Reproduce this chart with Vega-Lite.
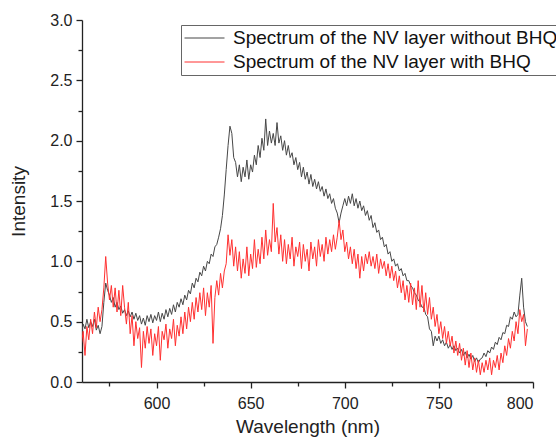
{
"$schema": "https://vega.github.io/schema/vega-lite/v6.json",
"autosize": {"type": "none"},
"padding": {"left": 82, "top": 20, "right": 23, "bottom": 57},
"width": 451,
"height": 362,
"background": "white",
"config": {"font": "Liberation Sans", "view": {"stroke": null}},
"data": {"values": [
{"w":560,"a":0.38,"b":0.30},{"w":561,"a":0.48,"b":0.42},{"w":562,"a":0.44,"b":0.22},{"w":563,"a":0.52,"b":0.46},{"w":564,"a":0.45,"b":0.35},
{"w":565,"a":0.50,"b":0.52},{"w":566,"a":0.46,"b":0.40},{"w":567,"a":0.52,"b":0.58},{"w":568,"a":0.43,"b":0.45},{"w":569,"a":0.47,"b":0.62},
{"w":570,"a":0.40,"b":0.50},{"w":571,"a":0.46,"b":0.60},{"w":572,"a":0.66,"b":0.78},{"w":573,"a":0.82,"b":1.04},{"w":574,"a":0.76,"b":0.82},
{"w":575,"a":0.72,"b":0.68},{"w":576,"a":0.66,"b":0.80},{"w":577,"a":0.70,"b":0.62},{"w":578,"a":0.62,"b":0.78},{"w":579,"a":0.66,"b":0.58},
{"w":580,"a":0.60,"b":0.76},{"w":581,"a":0.63,"b":0.55},{"w":582,"a":0.57,"b":0.80},{"w":583,"a":0.60,"b":0.62},{"w":584,"a":0.55,"b":0.48},
{"w":585,"a":0.59,"b":0.66},{"w":586,"a":0.54,"b":0.40},{"w":587,"a":0.58,"b":0.55},{"w":588,"a":0.52,"b":0.30},{"w":589,"a":0.57,"b":0.50},
{"w":590,"a":0.51,"b":0.36},{"w":591,"a":0.55,"b":0.45},{"w":592,"a":0.48,"b":0.12},{"w":593,"a":0.53,"b":0.42},{"w":594,"a":0.47,"b":0.28},
{"w":595,"a":0.55,"b":0.46},{"w":596,"a":0.50,"b":0.32},{"w":597,"a":0.56,"b":0.44},{"w":598,"a":0.49,"b":0.22},{"w":599,"a":0.55,"b":0.40},
{"w":600,"a":0.51,"b":0.30},{"w":601,"a":0.58,"b":0.46},{"w":602,"a":0.50,"b":0.18},{"w":603,"a":0.57,"b":0.42},{"w":604,"a":0.52,"b":0.35},
{"w":605,"a":0.60,"b":0.48},{"w":606,"a":0.54,"b":0.28},{"w":607,"a":0.61,"b":0.44},{"w":608,"a":0.56,"b":0.36},{"w":609,"a":0.64,"b":0.52},
{"w":610,"a":0.58,"b":0.30},{"w":611,"a":0.66,"b":0.47},{"w":612,"a":0.62,"b":0.38},{"w":613,"a":0.69,"b":0.54},{"w":614,"a":0.64,"b":0.40},
{"w":615,"a":0.72,"b":0.58},{"w":616,"a":0.68,"b":0.44},{"w":617,"a":0.76,"b":0.62},{"w":618,"a":0.73,"b":0.50},{"w":619,"a":0.82,"b":0.66},
{"w":620,"a":0.78,"b":0.52},{"w":621,"a":0.86,"b":0.70},{"w":622,"a":0.83,"b":0.58},{"w":623,"a":0.91,"b":0.74},{"w":624,"a":0.88,"b":0.60},
{"w":625,"a":0.96,"b":0.78},{"w":626,"a":0.92,"b":0.55},{"w":627,"a":1.00,"b":0.74},{"w":628,"a":0.98,"b":0.62},{"w":629,"a":1.06,"b":0.80},
{"w":630,"a":1.04,"b":0.32},{"w":631,"a":1.12,"b":0.70},{"w":632,"a":1.14,"b":0.84},{"w":633,"a":1.20,"b":0.72},{"w":634,"a":1.27,"b":0.90},
{"w":635,"a":1.38,"b":0.78},{"w":636,"a":1.55,"b":0.92},{"w":637,"a":1.76,"b":0.98},{"w":638,"a":1.96,"b":1.22},{"w":639,"a":2.12,"b":1.05},
{"w":640,"a":2.06,"b":1.18},{"w":641,"a":1.86,"b":0.96},{"w":642,"a":1.82,"b":1.12},{"w":643,"a":1.70,"b":0.92},{"w":644,"a":1.80,"b":1.08},
{"w":645,"a":1.66,"b":0.86},{"w":646,"a":1.78,"b":1.02},{"w":647,"a":1.70,"b":0.90},{"w":648,"a":1.84,"b":1.12},{"w":649,"a":1.68,"b":0.88},
{"w":650,"a":1.80,"b":1.06},{"w":651,"a":1.74,"b":0.94},{"w":652,"a":1.88,"b":1.18},{"w":653,"a":1.80,"b":0.95},{"w":654,"a":1.96,"b":1.10},
{"w":655,"a":1.86,"b":0.98},{"w":656,"a":2.02,"b":1.20},{"w":657,"a":1.92,"b":1.02},{"w":658,"a":2.18,"b":1.26},{"w":659,"a":1.96,"b":1.05},
{"w":660,"a":2.08,"b":1.18},{"w":661,"a":1.98,"b":1.08},{"w":662,"a":2.06,"b":1.48},{"w":663,"a":1.96,"b":1.16},{"w":664,"a":2.15,"b":1.28},
{"w":665,"a":1.98,"b":1.06},{"w":666,"a":2.04,"b":1.22},{"w":667,"a":1.92,"b":1.00},{"w":668,"a":2.00,"b":1.18},{"w":669,"a":1.88,"b":0.98},
{"w":670,"a":1.96,"b":1.14},{"w":671,"a":1.86,"b":1.02},{"w":672,"a":1.90,"b":1.20},{"w":673,"a":1.80,"b":0.96},{"w":674,"a":1.86,"b":1.12},
{"w":675,"a":1.76,"b":1.04},{"w":676,"a":1.82,"b":1.16},{"w":677,"a":1.70,"b":0.94},{"w":678,"a":1.78,"b":1.14},{"w":679,"a":1.68,"b":1.00},
{"w":680,"a":1.74,"b":1.10},{"w":681,"a":1.64,"b":0.92},{"w":682,"a":1.72,"b":1.16},{"w":683,"a":1.62,"b":1.02},{"w":684,"a":1.68,"b":1.12},
{"w":685,"a":1.60,"b":0.96},{"w":686,"a":1.66,"b":1.18},{"w":687,"a":1.58,"b":1.04},{"w":688,"a":1.62,"b":1.14},{"w":689,"a":1.54,"b":1.00},
{"w":690,"a":1.60,"b":1.20},{"w":691,"a":1.52,"b":1.06},{"w":692,"a":1.56,"b":1.18},{"w":693,"a":1.48,"b":1.08},{"w":694,"a":1.52,"b":1.22},
{"w":695,"a":1.44,"b":1.10},{"w":696,"a":1.40,"b":1.20},{"w":697,"a":1.32,"b":1.34},{"w":698,"a":1.40,"b":1.18},{"w":699,"a":1.46,"b":1.26},
{"w":700,"a":1.52,"b":1.08},{"w":701,"a":1.46,"b":1.16},{"w":702,"a":1.54,"b":1.02},{"w":703,"a":1.48,"b":1.12},{"w":704,"a":1.56,"b":0.98},
{"w":705,"a":1.46,"b":1.10},{"w":706,"a":1.52,"b":0.94},{"w":707,"a":1.44,"b":1.06},{"w":708,"a":1.50,"b":0.86},{"w":709,"a":1.42,"b":1.04},
{"w":710,"a":1.46,"b":0.92},{"w":711,"a":1.38,"b":1.06},{"w":712,"a":1.42,"b":0.98},{"w":713,"a":1.34,"b":1.08},{"w":714,"a":1.38,"b":0.96},
{"w":715,"a":1.28,"b":1.04},{"w":716,"a":1.32,"b":0.94},{"w":717,"a":1.24,"b":1.06},{"w":718,"a":1.26,"b":0.90},{"w":719,"a":1.18,"b":1.02},
{"w":720,"a":1.20,"b":0.94},{"w":721,"a":1.12,"b":1.00},{"w":722,"a":1.14,"b":0.88},{"w":723,"a":1.06,"b":0.98},{"w":724,"a":1.08,"b":0.86},
{"w":725,"a":1.00,"b":0.96},{"w":726,"a":1.02,"b":0.84},{"w":727,"a":0.96,"b":0.92},{"w":728,"a":0.98,"b":0.78},{"w":729,"a":0.92,"b":0.88},
{"w":730,"a":0.94,"b":0.74},{"w":731,"a":0.88,"b":0.84},{"w":732,"a":0.90,"b":0.68},{"w":733,"a":0.84,"b":0.80},{"w":734,"a":0.84,"b":0.66},
{"w":735,"a":0.80,"b":0.82},{"w":736,"a":0.78,"b":0.64},{"w":737,"a":0.74,"b":0.78},{"w":738,"a":0.72,"b":0.60},{"w":739,"a":0.68,"b":0.84},
{"w":740,"a":0.66,"b":0.62},{"w":741,"a":0.62,"b":0.80},{"w":742,"a":0.62,"b":0.58},{"w":743,"a":0.56,"b":0.74},{"w":744,"a":0.54,"b":0.56},
{"w":745,"a":0.44,"b":0.70},{"w":746,"a":0.42,"b":0.52},{"w":747,"a":0.30,"b":0.62},{"w":748,"a":0.38,"b":0.46},{"w":749,"a":0.34,"b":0.56},
{"w":750,"a":0.38,"b":0.40},{"w":751,"a":0.32,"b":0.50},{"w":752,"a":0.35,"b":0.36},{"w":753,"a":0.30,"b":0.46},{"w":754,"a":0.33,"b":0.32},
{"w":755,"a":0.28,"b":0.42},{"w":756,"a":0.31,"b":0.30},{"w":757,"a":0.27,"b":0.38},{"w":758,"a":0.30,"b":0.24},{"w":759,"a":0.26,"b":0.34},
{"w":760,"a":0.28,"b":0.22},{"w":761,"a":0.24,"b":0.32},{"w":762,"a":0.27,"b":0.18},{"w":763,"a":0.22,"b":0.28},{"w":764,"a":0.25,"b":0.14},
{"w":765,"a":0.20,"b":0.26},{"w":766,"a":0.23,"b":0.12},{"w":767,"a":0.19,"b":0.24},{"w":768,"a":0.22,"b":0.10},{"w":769,"a":0.17,"b":0.20},
{"w":770,"a":0.20,"b":0.08},{"w":771,"a":0.16,"b":0.18},{"w":772,"a":0.19,"b":0.06},{"w":773,"a":0.20,"b":0.16},{"w":774,"a":0.24,"b":0.08},
{"w":775,"a":0.21,"b":0.18},{"w":776,"a":0.26,"b":0.10},{"w":777,"a":0.24,"b":0.20},{"w":778,"a":0.29,"b":0.06},{"w":779,"a":0.27,"b":0.18},
{"w":780,"a":0.33,"b":0.12},{"w":781,"a":0.31,"b":0.22},{"w":782,"a":0.37,"b":0.10},{"w":783,"a":0.35,"b":0.24},{"w":784,"a":0.41,"b":0.16},
{"w":785,"a":0.40,"b":0.30},{"w":786,"a":0.47,"b":0.22},{"w":787,"a":0.46,"b":0.36},{"w":788,"a":0.54,"b":0.28},{"w":789,"a":0.52,"b":0.42},
{"w":790,"a":0.58,"b":0.34},{"w":791,"a":0.54,"b":0.50},{"w":792,"a":0.56,"b":0.40},{"w":793,"a":0.72,"b":0.60},{"w":794,"a":0.86,"b":0.50},
{"w":795,"a":0.62,"b":0.56},{"w":796,"a":0.50,"b":0.30},{"w":797,"a":0.46,"b":0.44}
]},
"transform": [{"fold": ["a", "b"], "as": ["s", "v"]}],
"mark": {"type": "line", "strokeWidth": 1, "clip": true},
"encoding": {
  "x": {"field": "w", "type": "quantitative",
    "scale": {"domain": [560.4, 800], "nice": false, "zero": false},
    "axis": {"title": "Wavelength (nm)", "values": [575, 600, 625, 650, 675, 700, 725, 750, 775, 800],
      "labelExpr": "datum.value % 50 === 0 ? datum.label : ''", "grid": false,
      "domainColor": "#222", "domainWidth": 1.3, "tickColor": "#222", "tickWidth": 1.3,
      "tickSize": {"condition": {"test": "datum.value % 50 === 0", "value": 6}, "value": 4},
      "labelFontSize": 16, "labelColor": "#222", "labelPadding": 7,
      "titleFontSize": 19, "titleFontWeight": "normal", "titleColor": "#222", "titlePadding": 6}},
  "y": {"field": "v", "type": "quantitative",
    "scale": {"domain": [0, 3], "nice": false, "zero": true},
    "axis": {"title": "Intensity", "values": [0, 0.25, 0.5, 0.75, 1, 1.25, 1.5, 1.75, 2, 2.25, 2.5, 2.75, 3],
      "format": ".1f",
      "labelExpr": "abs(datum.value*2 - round(datum.value*2)) < 0.01 ? datum.label : ''", "grid": false,
      "domainColor": "#222", "domainWidth": 1.3, "tickColor": "#222", "tickWidth": 1.3,
      "tickSize": {"condition": {"test": "abs(datum.value*2 - round(datum.value*2)) < 0.01", "value": 6}, "value": 4},
      "labelFontSize": 16, "labelColor": "#222", "labelPadding": 4,
      "titleFontSize": 19, "titleFontWeight": "normal", "titleColor": "#222", "titlePadding": 21}},
  "color": {"field": "s", "type": "nominal",
    "scale": {"domain": ["a", "b"], "range": ["#474747", "#ff3030"]},
    "legend": {"orient": "none", "legendX": 99, "legendY": 5, "title": null,
      "labelExpr": "datum.label === 'a' ? 'Spectrum of the NV layer without BHQ' : 'Spectrum of the NV layer with BHQ'",
      "labelFontSize": 19, "labelLimit": 500, "labelColor": "#111",
      "symbolType": "stroke", "symbolSize": 1600, "symbolStrokeWidth": 1,
      "clipHeight": 20,
      "strokeColor": "#666", "fillColor": "white", "padding": 3, "rowPadding": 4, "labelOffset": 8}}
}
}
